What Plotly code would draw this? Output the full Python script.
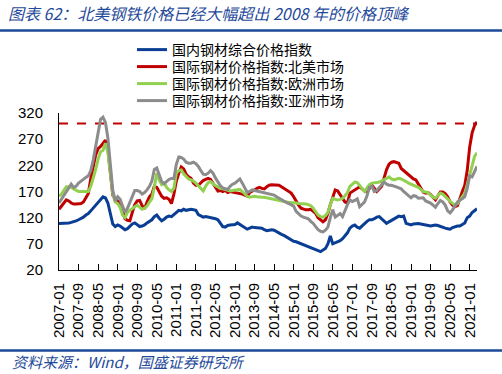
import pandas as pd
import plotly.graph_objects as go

# ---------------- data ----------------
MONTHS = [d.strftime("%Y-%m") for d in pd.date_range("2007-01-01", "2021-04-01", freq="MS")]

DOMESTIC = [
    109, 109, 110, 109, 110, 111, 112, 114, 116, 118, 121, 125,   # 2007
    128, 133, 138, 143, 148, 155, 160, 158, 148, 128, 108, 103,   # 2008
    106, 104, 100, 97, 99, 103, 108, 110, 106, 103, 104, 106,     # 2009
    110, 113, 116, 122, 125, 119, 114, 117, 121, 123, 122, 126,   # 2010
    130, 134, 133, 136, 134, 135, 136, 135, 134, 126, 123, 121,   # 2011
    122, 121, 121, 119, 118, 116, 110, 103, 102, 105, 106, 106,   # 2012
    107, 110, 107, 104, 100, 98, 100, 102, 101, 101, 100, 100,    # 2013
    97, 95, 96, 97, 96, 93, 90, 88, 86, 83, 80, 77,               # 2014
    75, 74, 72, 70, 69, 67, 65, 63, 61, 59, 56, 55,               # 2015
    58, 61, 70, 85, 70, 72, 75, 76, 80, 86, 91, 100,              # 2016
    104, 106, 102, 100, 105, 109, 113, 116, 116, 118, 121, 122,   # 2017
    118, 113, 109, 112, 115, 117, 120, 123, 122, 123, 109, 107,   # 2018
    106, 108, 109, 109, 108, 107, 106, 105, 104, 105, 106, 105,   # 2019
    103, 102, 100, 99, 98, 101, 103, 104, 104, 107, 110, 120,     # 2020
    123, 130, 133, 137,                                           # 2021
]

NORTH_AMERICA = [
    136, 141, 148, 154, 152, 148, 146, 146, 147, 147, 150, 157,
    166, 195, 218, 240, 252, 256, 262, 268, 250, 205, 163, 156,
    152, 147, 132, 118, 115, 114, 130, 145, 152, 153, 143, 137,
    150, 160, 165, 180, 178, 168, 161, 157, 158, 155, 147, 165,
    190, 205, 217, 213, 203, 198, 195, 186, 182, 182, 187, 191,
    193, 195, 193, 186, 178, 171, 172, 170, 172, 168, 170, 169,
    168, 168, 166, 165, 163, 161, 168, 170, 173, 176, 178, 176,
    175, 179, 182, 183, 183, 183, 182, 179, 176, 173, 170, 167,
    160, 151, 144, 138, 136, 135, 135, 136, 132, 128, 120, 116,
    112, 116, 128, 145, 160, 173, 171, 165, 157, 150, 148, 167,
    170, 173, 176, 179, 175, 171, 170, 176, 182, 176, 170, 175,
    180, 196, 212, 222, 226, 227, 226, 224, 214, 210, 206, 202,
    197, 194, 192, 185, 176, 169, 167, 168, 164, 158, 154, 162,
    169, 169, 166, 160, 150, 144, 141, 143, 158, 170, 182, 210,
    255, 282, 296, 303,
]

EUROPE = [
    161, 165, 172, 179, 179, 178, 175, 173, 170, 170, 170, 169,
    170, 180, 195, 212, 232, 246, 249, 262, 245, 205, 165, 150,
    147, 140, 125, 120, 130, 134, 138, 141, 144, 140, 136, 138,
    142, 150, 156, 178, 205, 192, 183, 186, 178, 173, 170, 176,
    205, 210, 211, 204, 198, 194, 192, 190, 186, 181, 177, 171,
    180, 187, 189, 185, 181, 179, 176, 175, 174, 173, 171, 172,
    173, 173, 174, 170, 165, 161, 159, 160, 161, 160, 159, 159,
    159, 158, 157, 156, 154, 154, 153, 152, 151, 150, 149, 149,
    149, 148, 147, 147, 147, 146, 145, 143, 138, 132, 125, 122,
    121, 124, 130, 145, 157, 155, 154, 155, 157, 162, 168, 180,
    184, 188, 187, 182, 176, 170, 177, 183, 186, 186, 187, 188,
    190, 192, 195, 198, 194, 192, 194, 195, 194, 192, 189, 186,
    184, 182, 180, 178, 174, 170, 169, 168, 163, 159, 157, 162,
    167, 165, 161, 156, 151, 147, 144, 147, 154, 160, 167, 183,
    203, 218, 237, 244,
]

ASIA = [
    148, 155, 162, 170, 178, 184, 178, 180, 186, 190, 193, 197,
    200, 210, 230, 258, 288, 308, 312, 302, 272, 228, 172, 152,
    160, 155, 142, 130, 138, 150, 163, 172, 172, 170, 165, 168,
    173, 180, 190, 212, 215, 200, 189, 185, 190, 193, 195, 195,
    222, 236, 235, 232, 226, 224, 224, 226, 223, 218, 210, 203,
    202, 205, 210, 205, 196, 188, 181, 177, 176, 174, 180, 184,
    186, 190, 194, 186, 176, 168, 170, 173, 172, 171, 170, 168,
    167, 166, 165, 164, 163, 160, 157, 154, 151, 149, 147, 144,
    142, 132, 127, 123, 121, 120, 118, 113, 109, 103, 97, 94,
    93, 96, 102, 120, 135, 121, 125, 128, 122, 135, 145, 154,
    151, 153, 156, 141, 145, 150, 162, 178, 180, 170, 172, 177,
    182, 188, 184, 182, 182, 181, 179, 177, 175, 170, 166, 162,
    158, 162, 161, 157, 158, 158, 152, 150, 148, 144, 140, 147,
    153, 150, 144, 133, 129, 135, 144, 150, 154, 156, 160, 176,
    200, 198, 208, 218,
]

PEAK_LEVEL = 300

SERIES_NAMES = [
    "国内钢材综合价格指数",
    "国际钢材价格指数:北美市场",
    "国际钢材价格指数:欧洲市场",
    "国际钢材价格指数:亚洲市场",
]

TICK_LABELS = [
    "2007-01", "2007-09", "2008-05", "2009-01", "2009-09", "2010-05",
    "2011-01", "2011-09", "2012-05", "2013-01", "2013-09", "2014-05",
    "2015-01", "2015-09", "2016-05", "2017-01", "2017-09", "2018-05",
    "2019-01", "2019-09", "2020-05", "2021-01",
]
Y_TICKS = [20, 70, 120, 170, 220, 270, 320]

TITLE = "图表 62：北美钢铁价格已经大幅超出 2008 年的价格顶峰"
SOURCE = "资料来源：Wind，国盛证券研究所"

# ---------------- styling / layout ----------------
W, H = 502, 374
L, R, T, B = 59, 25, 113, 104
PW, PH = W - L - R, H - T - B

def px_to_paper_x(px):
    return (px - L) / PW

def px_to_paper_y(py):
    return (H - B - py) / PH

CJK = "Noto Sans CJK SC"
NUM = "Liberation Sans, Arial, Noto Sans CJK SC"
BLUE_RULE = "#1B4A9B"

COLORS = ["#0A3E94", "#C00000", "#92D050", "#8C8C8C"]
VALUES = [DOMESTIC, NORTH_AMERICA, EUROPE, ASIA]
LEGEND_IDS = ["legend", "legend2", "legend3", "legend4"]
LEGEND_ROWS_PX = [50, 67, 84, 101]

fig = go.Figure()

fig.add_trace(go.Scatter(
    x=MONTHS, y=[PEAK_LEVEL] * len(MONTHS), mode="lines",
    line=dict(color="#C00000", width=2, dash="dash"),
    showlegend=False, hoverinfo="skip",
))

for name, vals, col, lid in zip(SERIES_NAMES, VALUES, COLORS, LEGEND_IDS):
    fig.add_trace(go.Scatter(
        x=MONTHS, y=vals, mode="lines", name=name, legend=lid,
        line=dict(color=col, width=3),
    ))

legend_layout = {}
for lid, row in zip(LEGEND_IDS, LEGEND_ROWS_PX):
    legend_layout[lid] = dict(
        x=px_to_paper_x(132), y=px_to_paper_y(row),
        xanchor="left", yanchor="middle",
        bgcolor="rgba(0,0,0,0)", borderwidth=0,
        font=dict(family=CJK, size=14, color="black"),
        itemwidth=30,
    )

fig.update_layout(
    width=W, height=H,
    margin=dict(l=L, r=R, t=T, b=B, autoexpand=False),
    paper_bgcolor="white", plot_bgcolor="white",
    title=dict(
        text=TITLE, xref="container", yref="container",
        x=8 / W, xanchor="left", y=1 - 14 / H, yanchor="middle",
        font=dict(family=CJK, size=16, color="#1F4A9A", style="italic"),
    ),
    xaxis=dict(
        type="category", range=[0, len(MONTHS) - 1],
        tickmode="array", tickvals=TICK_LABELS, ticktext=TICK_LABELS,
        tickangle=-90, ticks="inside", ticklen=6, tickcolor="black",
        showline=True, linecolor="black", linewidth=1,
        showgrid=False, zeroline=False, automargin=False,
        tickfont=dict(family=NUM, size=15, color="black"),
        ticklabelstandoff=6,
    ),
    yaxis=dict(
        range=[20, 320], tickmode="array", tickvals=Y_TICKS,
        showline=True, linecolor="black", linewidth=1,
        ticks="", showgrid=False, zeroline=False, automargin=False,
        tickfont=dict(family=NUM, size=15, color="black"),
        ticklabelstandoff=12,
    ),
    shapes=[
        dict(type="line", xref="paper", yref="paper",
             x0=px_to_paper_x(0), x1=px_to_paper_x(W),
             y0=px_to_paper_y(30.5), y1=px_to_paper_y(30.5),
             line=dict(color=BLUE_RULE, width=2.5)),
        dict(type="line", xref="paper", yref="paper",
             x0=px_to_paper_x(0), x1=px_to_paper_x(W),
             y0=px_to_paper_y(350.5), y1=px_to_paper_y(350.5),
             line=dict(color=BLUE_RULE, width=2.5)),
    ],
    annotations=[
        dict(text=SOURCE, xref="paper", yref="paper",
             x=px_to_paper_x(10), y=px_to_paper_y(361),
             xanchor="left", yanchor="middle", showarrow=False,
             font=dict(family=CJK, size=15, color="#1F4A9A", style="italic")),
    ],
    **legend_layout,
)

fig.write_html(
    "out.html",
    config={"displayModeBar": False},
    post_script="document.body.style.margin='0';document.body.style.overflow='hidden';",
)
